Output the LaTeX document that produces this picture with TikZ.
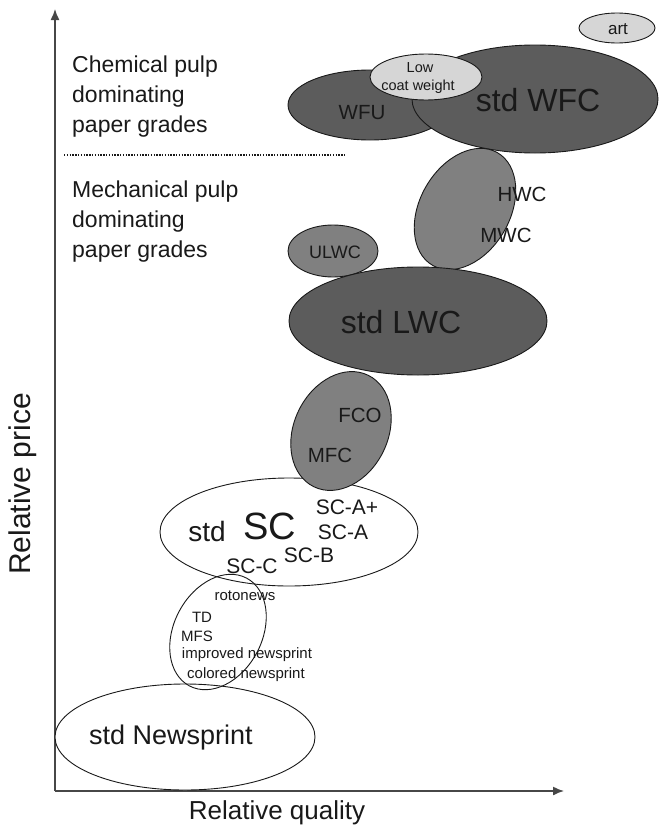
\documentclass[tikz,border=0pt]{standalone}
\usepackage{fontspec}
\setmainfont{Liberation Sans}
\usetikzlibrary{shapes.geometric,arrows.meta}
\definecolor{darkg}{RGB}{92,92,92}
\definecolor{midg}{RGB}{128,128,128}
\definecolor{lightg}{RGB}{214,214,214}
\definecolor{inkc}{RGB}{25,25,25}
\newcommand{\fs}[1]{\fontsize{#1}{#1}\selectfont}
\tikzset{
  blob/.style={ellipse, draw=inkc, line width=0.9pt, inner sep=0pt},
  lbl/.style={inner sep=0pt, text=inkc},
  axisline/.style={draw=inkc!80, line width=1.4pt, -{Latex[length=11pt,width=9pt]}},
}
\begin{document}
\begin{tikzpicture}[x=1pt,y=-1pt]
\useasboundingbox (0,0) rectangle (659,827);
% axes
\coordinate (O) at (55,791);
\coordinate (Ytip) at (55,9);
\coordinate (Xtip) at (564,791);
\draw[axisline] (O) -- (Ytip);
\draw[axisline] (O) -- (Xtip);
\node[lbl, font=\fs{26}] (xlab) at (277,813) {Relative quality};
\node[lbl, font=\fs{30}, rotate=90] (ylab) at (23,484) {Relative price};
% region labels
\node[lbl, font=\fontsize{23}{30}\selectfont, align=left, anchor=west] (chem) at (72,97) {Chemical pulp\\dominating\\paper grades};
\node[lbl, font=\fontsize{23}{30}\selectfont, align=left, anchor=west] (mech) at (72,222) {Mechanical pulp\\dominating\\paper grades};
\coordinate (dl) at (64,155);
\coordinate (dr) at (345,155);
\draw[inkc, line width=1.8pt, dash pattern=on 1.4pt off 1.4pt] (dl) -- (dr);
% ellipses, back to front
\node[blob, fill=white, minimum width=260pt, minimum height=106pt] (news) at (185,737) {};
\node[blob, fill=white, minimum width=258pt, minimum height=108pt] (sc) at (289,532) {};
\node[blob, minimum width=122pt, minimum height=88pt, rotate=62] (small) at (218,632) {};
\node[blob, fill=midg, minimum width=124pt, minimum height=94pt, rotate=64] (fco) at (341,431) {};
\node[blob, fill=midg, minimum width=90pt, minimum height=52pt] (ulwc) at (333,251) {};
\node[blob, fill=darkg, minimum width=164pt, minimum height=70pt] (wfu) at (370,105) {};
\node[blob, fill=darkg, minimum width=246pt, minimum height=108pt] (wfc) at (535,99) {};
\node[blob, fill=midg, minimum width=130pt, minimum height=90pt, rotate=60] (hwc) at (465,209) {};
\node[blob, fill=darkg, minimum width=258pt, minimum height=108pt] (lwc) at (418,321) {};
\node[blob, fill=lightg, minimum width=112pt, minimum height=46pt] (low) at (426,77) {};
\node[blob, fill=lightg, minimum width=76pt, minimum height=30pt] (art) at (617,28) {};
% texts
\node[lbl, font=\fs{17}] (tart) at (618,29) {art};
\node[lbl, font=\fs{14.5}] (tlow1) at (420,68) {Low};
\node[lbl, font=\fs{14.5}] (tlow2) at (418,87) {coat weight};
\node[lbl, font=\fs{20.5}] (twfu) at (362,113) {WFU};
\node[lbl, font=\fs{32}] (twfc) at (538,100) {std WFC};
\node[lbl, font=\fs{20.5}] (thwc) at (522,194) {HWC};
\node[lbl, font=\fs{20.5}] (tmwc) at (506,235) {MWC};
\node[lbl, font=\fs{18}] (tulwc) at (335,252) {ULWC};
\node[lbl, font=\fs{32}] (tlwc) at (401,322) {std LWC};
\node[lbl, font=\fs{20.5}] (tfco) at (360,415) {FCO};
\node[lbl, font=\fs{20.5}] (tmfc) at (330,455) {MFC};
\node[lbl, font=\fs{28}] (tstd) at (207,531) {std};
\node[lbl, font=\fs{38}] (tsc) at (270,526) {SC};
\node[lbl, font=\fs{21}] (tsca1) at (347,507) {SC-A+};
\node[lbl, font=\fs{21}] (tsca) at (343,532) {SC-A};
\node[lbl, font=\fs{21}] (tscb) at (309,555) {SC-B};
\node[lbl, font=\fs{21}] (tscc) at (252,566) {SC-C};
\node[lbl, font=\fs{15}] (troto) at (245,596) {rotonews};
\node[lbl, font=\fs{15}] (ttd) at (202,617) {TD};
\node[lbl, font=\fs{15}] (tmfs) at (197,636) {MFS};
\node[lbl, font=\fs{15}] (timp) at (247,655) {improved newsprint};
\node[lbl, font=\fs{15}] (tcol) at (246,675) {colored newsprint};
\node[lbl, font=\fs{27}] (tnews) at (171,738) {std Newsprint};
\end{tikzpicture}
\end{document}
